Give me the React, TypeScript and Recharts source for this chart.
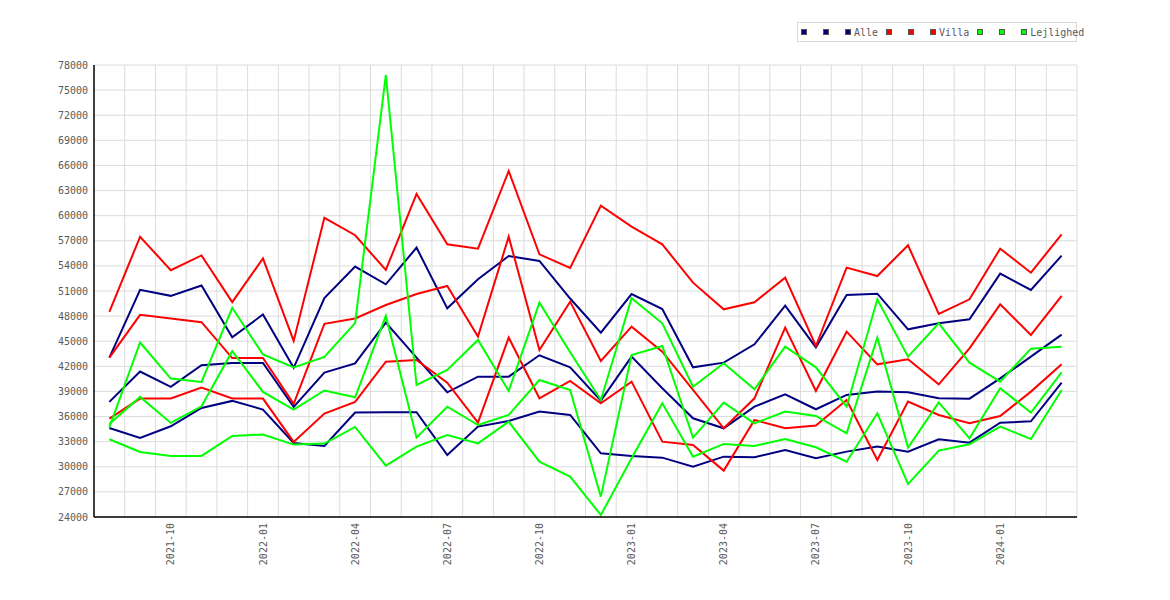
import { CartesianGrid, Legend, Line, LineChart, XAxis, YAxis } from "recharts";

const months = [
  "2021-08", "2021-09", "2021-10", "2021-11", "2021-12", "2022-01", "2022-02", "2022-03",
  "2022-04", "2022-05", "2022-06", "2022-07", "2022-08", "2022-09", "2022-10", "2022-11",
  "2022-12", "2023-01", "2023-02", "2023-03", "2023-04", "2023-05", "2023-06", "2023-07",
  "2023-08", "2023-09", "2023-10", "2023-11", "2023-12", "2024-01", "2024-02", "2024-03",
];

const yTicks = [24000, 27000, 30000, 33000, 36000, 39000, 42000, 45000, 48000, 51000, 54000, 57000, 60000, 63000, 66000, 69000, 72000, 75000, 78000];

// Alle
const alleHigh = [43050, 51140, 50420, 51660, 45480, 48190, 41820, 50150, 53920, 51800, 56180, 48930, 52400, 55180, 54590, 50100, 46030, 50640, 48850, 41880, 42440, 44630, 49250, 44270, 50520, 50680, 46420, 47140, 47620, 53070, 51120, 55220];
const alleMid = [37750, 41380, 39550, 42140, 42410, 42410, 37150, 41260, 42350, 47220, 43040, 38900, 40770, 40770, 43320, 41880, 37900, 43160, 39380, 35790, 34600, 37180, 38660, 36870, 38580, 38980, 38900, 38180, 38140, 40570, 43160, 45790];
const alleLow = [34640, 33450, 34840, 37030, 37870, 36840, 32850, 32490, 36490, 36510, 36510, 31410, 34800, 35470, 36590, 36190, 31610, 31290, 31090, 30020, 31210, 31130, 32010, 31010, 31810, 32410, 31810, 33280, 32880, 35270, 35430, 40050];

// Villa
const villaHigh = [48510, 57480, 53490, 55250, 49670, 54890, 45040, 59750, 57660, 53510, 62590, 56580, 56060, 65340, 55380, 53750, 61200, 58690, 56580, 52000, 48810, 49650, 52600, 44430, 53790, 52790, 56460, 48250, 50010, 56060, 53190, 57770];
const villaMid = [43050, 48150, 47710, 47280, 42990, 42990, 37510, 47080, 47720, 49330, 50640, 51600, 45550, 57490, 43950, 49730, 42640, 46740, 43750, 39180, 34600, 38180, 46620, 39060, 46140, 42240, 42840, 39850, 44150, 49410, 45750, 50410];
const villaLow = [35760, 38150, 38150, 39470, 38150, 38150, 32970, 36360, 37760, 42560, 42760, 40050, 35270, 45430, 38180, 40250, 37580, 40170, 33000, 32600, 29540, 35590, 34600, 34920, 37980, 30810, 37780, 36190, 35190, 36070, 38980, 42240];

// Lejlighed
const lejlHigh = [34700, 44850, 40540, 40140, 48990, 43410, 41860, 43130, 47170, 76800, 39770, 41570, 45150, 39060, 49610, 43680, 37980, 50130, 47140, 39570, 42360, 39260, 44350, 41880, 37180, 50010, 43160, 47140, 42440, 40170, 44110, 44350];
const lejlMid = [35100, 38350, 35240, 37230, 43810, 38950, 36840, 39110, 38300, 48020, 33480, 37180, 34990, 36190, 40370, 39180, 26430, 43360, 44430, 33480, 37660, 35190, 36590, 36070, 34000, 45430, 32290, 37700, 33400, 39380, 36470, 41290];
const lejlLow = [33290, 31770, 31300, 31300, 33690, 33850, 32650, 32770, 34760, 30140, 32410, 33800, 32800, 35390, 30610, 28820, 24240, 31010, 37580, 31210, 32730, 32490, 33320, 32330, 30610, 36390, 27950, 31930, 32690, 34800, 33320, 39180];

const groups = [
  { name: "Alle", color: "#000080", keys: ["alleLow", "alleMid", "alleHigh"] },
  { name: "Villa", color: "#ff0000", keys: ["villaLow", "villaMid", "villaHigh"] },
  { name: "Lejlighed", color: "#00ff00", keys: ["lejlLow", "lejlMid", "lejlHigh"] },
];

const data = months.map((m, i) => ({
  i,
  month: m,
  alleLow: alleLow[i],
  alleMid: alleMid[i],
  alleHigh: alleHigh[i],
  villaLow: villaLow[i],
  villaMid: villaMid[i],
  villaHigh: villaHigh[i],
  lejlLow: lejlLow[i],
  lejlMid: lejlMid[i],
  lejlHigh: lejlHigh[i],
}));

const xTicks = months.map((m, i) => (/-(01|04|07|10)$/.test(m) ? i : -1)).filter((i) => i >= 0);
const gridBounds = months.map((_, i) => i + 0.5);

const FONT = "'DejaVu Sans Mono', monospace";
const TEXT = "#5a5a5a";

function XTick({ x, y, payload }: any) {
  const px = x + 3.6;
  const py = y + 6;
  return (
    <text x={px} y={py} transform={`rotate(-90 ${px} ${py})`} textAnchor="end" fontFamily={FONT} fontSize={10} fill={TEXT}>
      {months[payload.value]}
    </text>
  );
}

function LegendBox() {
  return (
    <div
      style={{
        boxSizing: "border-box",
        width: 280,
        height: 20,
        border: "1px solid #d8d8d8",
        background: "#fff",
        display: "flex",
        alignItems: "center",
        paddingLeft: 3,
        whiteSpace: "nowrap",
        fontFamily: FONT,
        fontSize: 10,
        color: TEXT,
        overflow: "visible",
      }}
    >
      {groups.map((g) => (
        <span key={g.name} style={{ display: "inline-flex", alignItems: "center", marginRight: 8 }}>
          {[0, 1, 2].map((k) => (
            <span
              key={k}
              style={{
                boxSizing: "border-box",
                display: "inline-block",
                width: 6,
                height: 6,
                background: g.color,
                border: "1px solid #555",
                marginRight: k < 2 ? 16 : 3,
              }}
            />
          ))}
          <span>{g.name}</span>
        </span>
      ))}
    </div>
  );
}

export default function App() {
  return (
    <div style={{ width: 1170, height: 600, background: "#fff" }}>
      <style>{"body{margin:0}"}</style>
      <LineChart width={1170} height={600} data={data} margin={{ top: 65, right: 93, bottom: 0, left: 0 }}>
        <CartesianGrid
          stroke="#dcdcdc"
          strokeWidth={1}
          verticalCoordinatesGenerator={({ xAxis, offset }: any) => {
            const s = xAxis?.scale;
            if (typeof s === "function") return gridBounds.map((v) => s(v));
            return gridBounds.map((v) => offset.left + ((v + 0.5) / months.length) * offset.width);
          }}
        />
        <XAxis
          dataKey="i"
          type="number"
          domain={[-0.5, months.length - 0.5]}
          ticks={xTicks}
          interval={0}
          height={83}
          tickLine={false}
          tickSize={0}
          tickMargin={0}
          axisLine={{ stroke: "#000", strokeWidth: 1.5 }}
          tick={<XTick />}
        />
        <YAxis
          type="number"
          domain={[24000, 78000]}
          ticks={yTicks}
          interval={0}
          width={94}
          tickLine={false}
          tickSize={0}
          tickMargin={6}
          axisLine={{ stroke: "#000", strokeWidth: 1.5 }}
          tick={{ fontFamily: FONT, fontSize: 10, fill: TEXT }}
        />
        <Legend
          layout="horizontal"
          align="center"
          verticalAlign="middle"
          wrapperStyle={{ top: 22, left: 797, width: 280, height: 20 }}
          content={() => <LegendBox />}
        />
        {groups.flatMap((g) =>
          g.keys.map((k) => (
            <Line
              key={k}
              type="linear"
              dataKey={k}
              stroke={g.color}
              strokeWidth={2}
              dot={false}
              activeDot={false}
              isAnimationActive={false}
            />
          ))
        )}
      </LineChart>
    </div>
  );
}
